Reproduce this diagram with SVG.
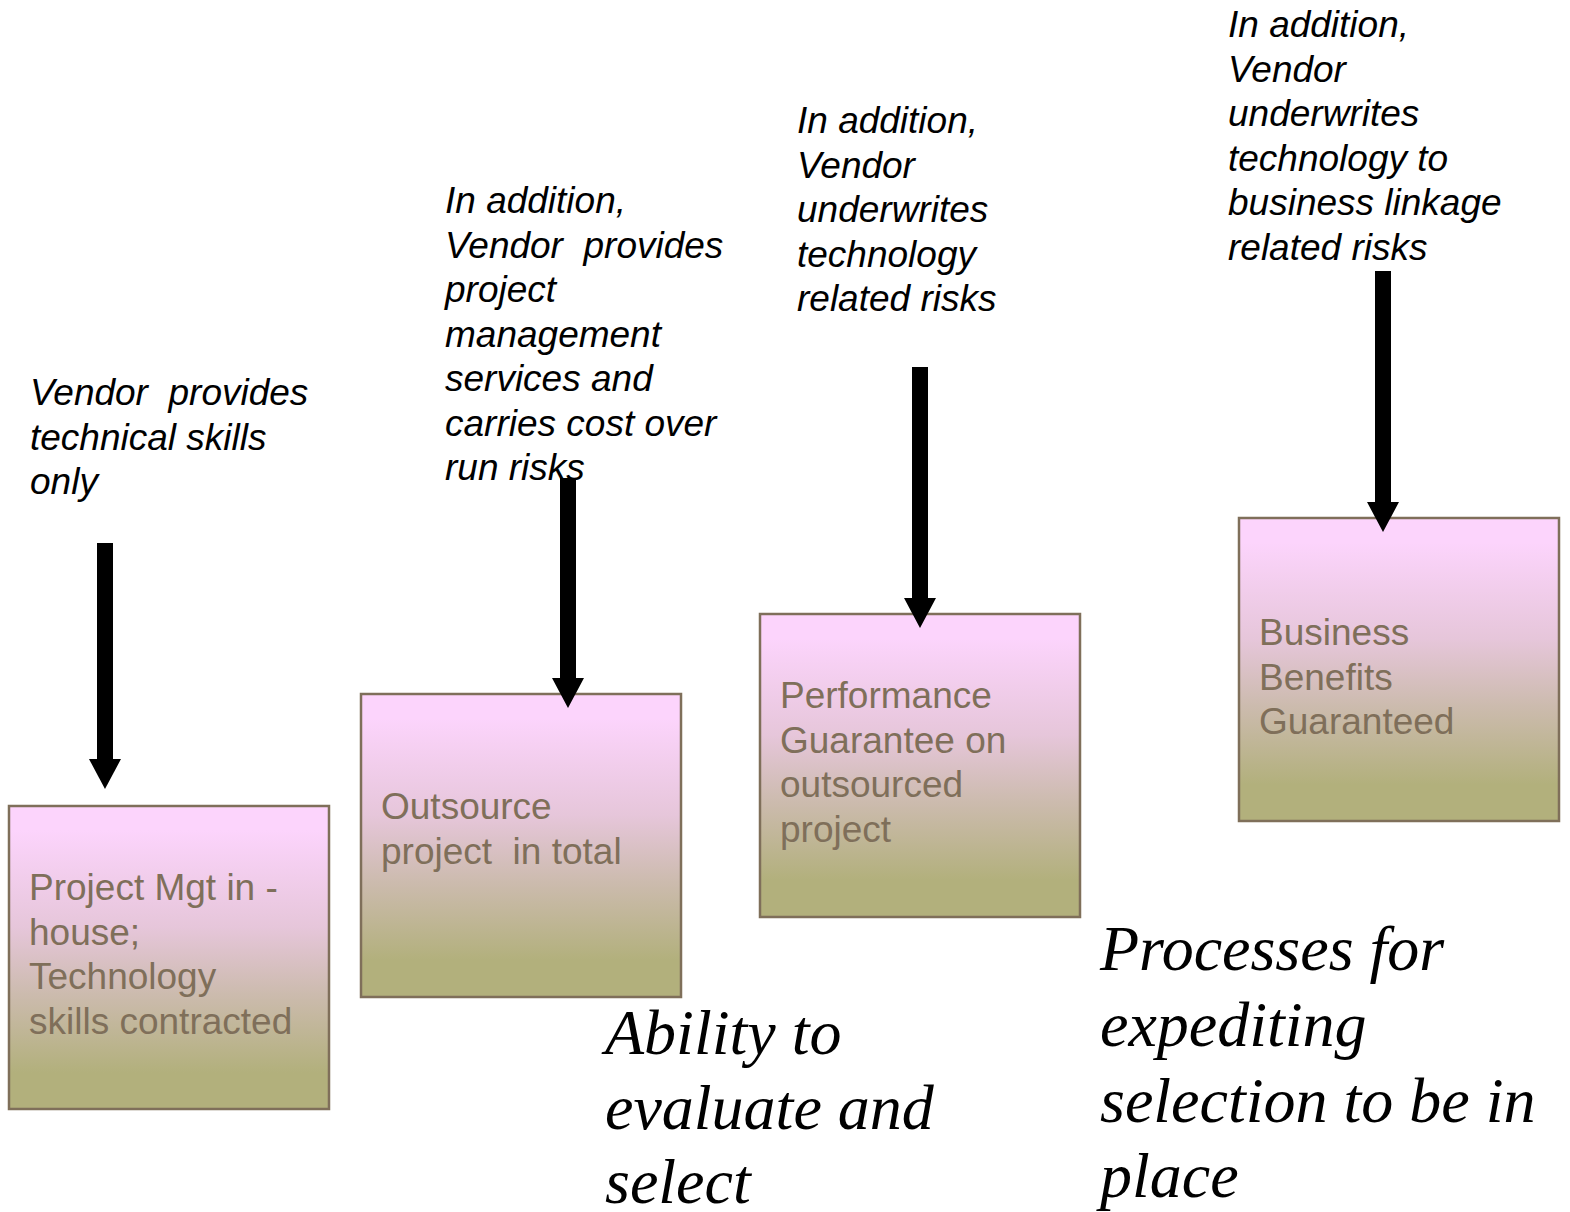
<svg xmlns="http://www.w3.org/2000/svg" width="1570" height="1212" viewBox="0 0 1570 1212">
<defs>
<linearGradient id="boxfill" x1="0" y1="0" x2="0" y2="1">
<stop offset="0.08" stop-color="#FCD4FC"/>
<stop offset="0.4" stop-color="#E6C6DA"/>
<stop offset="0.62" stop-color="#CCBBAE"/>
<stop offset="0.88" stop-color="#B2B07C"/>
</linearGradient>
<marker id="head" viewBox="0 0 30 32" refX="1" refY="16" markerWidth="30" markerHeight="32" markerUnits="userSpaceOnUse" orient="auto">
<path d="M0,0 L30,16 L0,32 Z" fill="#000"/>
</marker>
</defs>
<style>
.box{fill:url(#boxfill);stroke:#7F6F5A;stroke-width:2.5}
.bt{font-family:"Liberation Sans",Arial,sans-serif;font-size:37px;fill:#7F6F5A}
.it{font-family:"Liberation Sans",Arial,sans-serif;font-size:37px;font-style:italic;fill:#000}
.big{font-family:"Liberation Serif","Times New Roman",serif;font-size:64px;font-style:italic;fill:#000}
.arr{stroke:#000;stroke-width:16;fill:none;marker-end:url(#head)}
</style>
<rect width="1570" height="1212" fill="#fff"/>

<g id="node1">
<rect class="box" x="9" y="806" width="320" height="303"/>
<text class="bt" x="29" y="900">Project Mgt in -</text>
<text class="bt" x="29" y="944.5">house;</text>
<text class="bt" x="29" y="989">Technology</text>
<text class="bt" x="29" y="1033.5">skills contracted</text>
</g>
<g id="node2">
<rect class="box" x="361" y="694" width="320" height="303"/>
<text class="bt" x="381" y="819">Outsource</text>
<text class="bt" x="381" y="863.5" xml:space="preserve">project  in total</text>
</g>
<g id="node3">
<rect class="box" x="760" y="614" width="320" height="303"/>
<text class="bt" x="780" y="708">Performance</text>
<text class="bt" x="780" y="752.5">Guarantee on</text>
<text class="bt" x="780" y="797">outsourced</text>
<text class="bt" x="780" y="841.5">project</text>
</g>
<g id="node4">
<rect class="box" x="1239" y="518" width="320" height="303"/>
<text class="bt" x="1259" y="645">Business</text>
<text class="bt" x="1259" y="689.5">Benefits</text>
<text class="bt" x="1259" y="734">Guaranteed</text>
</g>

<g id="label1">
<text class="it" x="30" y="405" xml:space="preserve">Vendor  provides</text>
<text class="it" x="30" y="449.5">technical skills</text>
<text class="it" x="30" y="494">only</text>
</g>
<g id="label2">
<text class="it" x="445" y="213">In addition,</text>
<text class="it" x="445" y="257.5" xml:space="preserve">Vendor  provides</text>
<text class="it" x="445" y="302">project</text>
<text class="it" x="445" y="346.5">management</text>
<text class="it" x="445" y="391">services and</text>
<text class="it" x="445" y="435.5">carries cost over</text>
<text class="it" x="445" y="480">run risks</text>
</g>
<g id="label3">
<text class="it" x="797" y="133">In addition,</text>
<text class="it" x="797" y="177.5">Vendor</text>
<text class="it" x="797" y="222">underwrites</text>
<text class="it" x="797" y="266.5">technology</text>
<text class="it" x="797" y="311">related risks</text>
</g>
<g id="label4">
<text class="it" x="1228" y="37">In addition,</text>
<text class="it" x="1228" y="81.5">Vendor</text>
<text class="it" x="1228" y="126">underwrites</text>
<text class="it" x="1228" y="170.5">technology to</text>
<text class="it" x="1228" y="215">business linkage</text>
<text class="it" x="1228" y="259.5">related risks</text>
</g>

<g id="ability">
<text class="big" x="605" y="1054">Ability to</text>
<text class="big" x="605" y="1129">evaluate and</text>
<text class="big" x="605" y="1203">select</text>
</g>
<g id="processes">
<text class="big" x="1100" y="970">Processes for</text>
<text class="big" x="1100" y="1046">expediting</text>
<text class="big" x="1100" y="1122">selection to be in</text>
<text class="big" x="1100" y="1197">place</text>
</g>

<g id="connectors">
<line class="arr" x1="105" y1="543" x2="105" y2="760"/>
<line class="arr" x1="568" y1="478" x2="568" y2="679"/>
<line class="arr" x1="920" y1="367" x2="920" y2="599"/>
<line class="arr" x1="1383" y1="271" x2="1383" y2="503"/>
</g>
</svg>
